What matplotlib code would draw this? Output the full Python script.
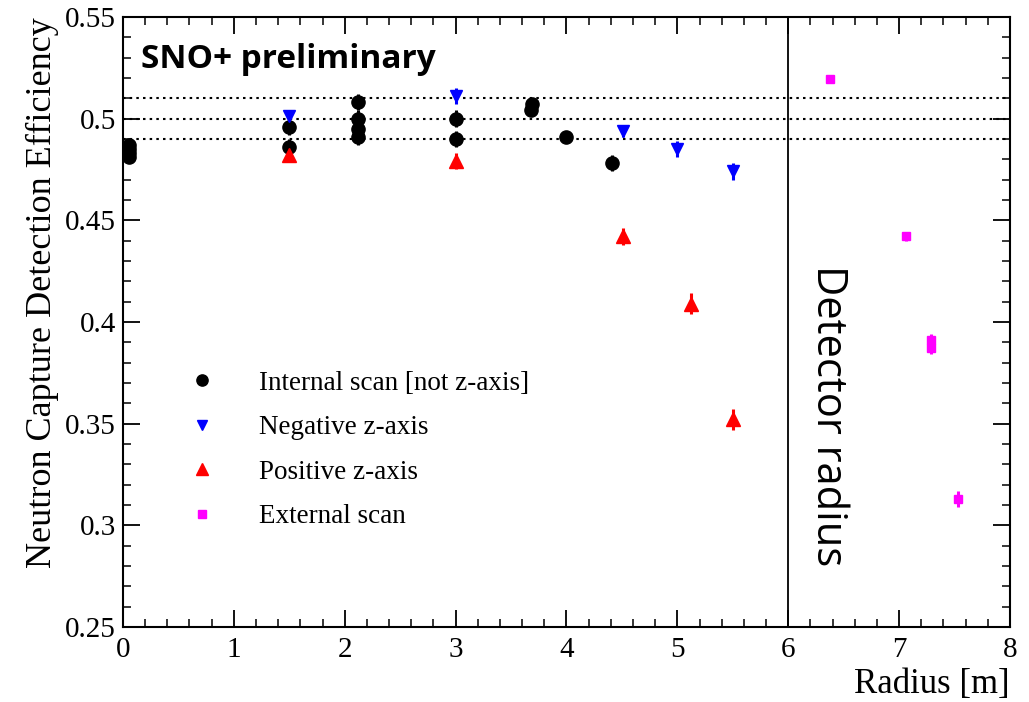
import matplotlib.pyplot as plt
import numpy as np
from matplotlib.ticker import MultipleLocator
from matplotlib.lines import Line2D

# internal scan (not z-axis)
int_r = [0.05, 0.05, 0.05, 0.05, 1.5, 1.5, 2.12, 2.12, 2.12, 2.12, 3.0, 3.0, 3.68, 3.69, 4.0, 4.41]
int_eff = [0.487, 0.485, 0.483, 0.481, 0.496, 0.486, 0.508, 0.500, 0.495, 0.491, 0.500, 0.490, 0.504, 0.507, 0.491, 0.478]
int_err = [0.003, 0.003, 0.003, 0.003, 0.004, 0.004, 0.004, 0.004, 0.004, 0.004, 0.004, 0.004, 0.003, 0.003, 0.003, 0.004]

# negative z-axis
neg_r = [1.5, 3.0, 4.51, 5.0, 5.5]
neg_eff = [0.501, 0.511, 0.494, 0.485, 0.474]
neg_err = [0.003, 0.004, 0.003, 0.004, 0.004]

# positive z-axis
pos_r = [1.5, 3.0, 4.51, 5.12, 5.5]
pos_eff = [0.482, 0.479, 0.442, 0.409, 0.352]
pos_err = [0.003, 0.004, 0.004, 0.005, 0.005]

# external scan
ext_r = [6.38, 7.06, 7.29, 7.29, 7.53]
ext_eff = [0.5195, 0.442, 0.391, 0.387, 0.313]
ext_err = [0.002, 0.002, 0.003, 0.003, 0.004]

ref_lines = [0.49, 0.50, 0.51]
detector_radius = 6.0

plt.rcParams['font.family'] = ['Liberation Serif', 'DejaVu Serif']

fig = plt.figure(figsize=(10.29, 7.02), dpi=100)
ax = fig.add_axes([0.1195, 0.107, 0.862, 0.869])

for y in ref_lines:
    ax.axhline(y, color='black', linestyle=(0, (1.2, 2.0)), linewidth=1.5, zorder=1)
ax.axvline(detector_radius, color='black', linewidth=1.3, zorder=1)

series = [
    (int_r, int_eff, int_err, 'o', 'black', 9.5, 'Internal scan [not z-axis]'),
    (neg_r, neg_eff, neg_err, 'v', '#0000ff', 9, 'Negative z-axis'),
    (pos_r, pos_eff, pos_err, '^', '#ff0000', 9.5, 'Positive z-axis'),
    (ext_r, ext_eff, ext_err, 's', '#ff00ff', 6, 'External scan'),
]
handles = []
for r, eff, err, m, c, ms, lab in series:
    ax.errorbar(r, eff, yerr=err, fmt=m, color=c, ms=ms, elinewidth=2.2, capsize=0, zorder=3)
    handles.append(Line2D([], [], linestyle='none', marker=m, color=c, ms=ms * 0.85, label=lab))

ax.set_xlim(0, 8)
ax.set_ylim(0.25, 0.55)
ax.xaxis.set_major_locator(MultipleLocator(1))
ax.xaxis.set_minor_locator(MultipleLocator(0.2))
ax.yaxis.set_major_locator(MultipleLocator(0.05))
ax.yaxis.set_minor_locator(MultipleLocator(0.01))
ax.tick_params(which='both', direction='in', top=True, right=True, labelsize=21)
ax.tick_params(which='major', length=12, width=1.3)
ax.tick_params(which='minor', length=6, width=1.1)
ax.set_yticks([0.25, 0.3, 0.35, 0.4, 0.45, 0.5, 0.55])
ax.set_yticklabels(['0.25', '0.3', '0.35', '0.4', '0.45', '0.5', '0.55'])
ax.tick_params(axis='x', pad=7)
ax.tick_params(axis='y', pad=5)
for s in ax.spines.values():
    s.set_linewidth(1.5)

ax.set_xlabel('Radius [m]', fontsize=25, loc='right', labelpad=4)
ax.set_ylabel('Neutron Capture Detection Efficiency', fontsize=26, loc='top', labelpad=4)

ax.text(0.16, 0.529, 'SNO+ preliminary', fontsize=24, fontweight='bold',
        family=['Open Sans', 'DejaVu Sans'], va='center', ha='left')
ax.text(6.36, 0.354, 'Detector radius', fontsize=30, rotation=-90,
        family=['Open Sans', 'DejaVu Sans'], va='center', ha='center')

ax.legend(handles=handles, loc='upper left', bbox_to_anchor=(0.062, 0.438), frameon=False,
          fontsize=19.5, handlelength=1.0, handletextpad=1.6, labelspacing=0.72,
          borderaxespad=0)

fig.savefig('out.png', dpi=100)
